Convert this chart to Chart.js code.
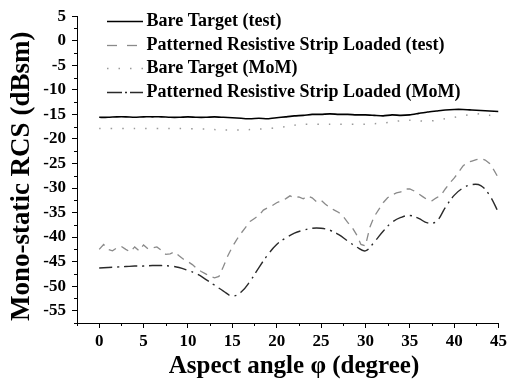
<!DOCTYPE html>
<html>
<head>
<meta charset="utf-8">
<script src="https://cdn.jsdelivr.net/npm/chart.js@4.4.1/dist/chart.umd.min.js"></script>
<style>
  html, body { margin: 0; padding: 0; background: #fff; }
  #wrap { width: 510px; height: 386px; }
</style>
</head>
<body>
<div id="wrap"><canvas id="c" width="510" height="386"></canvas></div>
<script>
const seriesLabels = [
  "Bare Target (test)",
  "Patterned Resistive Strip Loaded (test)",
  "Bare Target (MoM)",
  "Patterned Resistive Strip Loaded (MoM)"
];

// angles (degree)
const anglesStep1 = [0,1,2,3,4,5,6,7,8,9,10,11,12,13,14,15,16,17,18,19,20,21,22,23,24,25,26,27,28,29,30,31,32,33,34,35,36,37,38,39,40,41,42,43,44,45];
const anglesStepHalf = [0,0.5,1,1.5,2,2.5,3,3.5,4,4.5,5,5.5,6,6.5,7,7.5,8,8.5,9,9.5,10,10.5,11,11.5,12,12.5,13,13.5,14,14.5,15,15.5,16,16.5,17,17.5,18,18.5,19,19.5,20,20.5,21,21.5,22,22.5,23,23.5,24,24.5,25,25.5,26,26.5,27,27.5,28,28.5,29,29.5,30,30.5,31,31.5,32,32.5,33,33.5,34,34.5,35,35.5,36,36.5,37,37.5,38,38.5,39,39.5,40,40.5,41,41.5,42,42.5,43,43.5,44,44.5,45];

// Bare Target (test), 1-degree steps
const bareTest = [-15.6,-15.6,-15.5,-15.5,-15.6,-15.5,-15.5,-15.5,-15.6,-15.6,-15.5,-15.6,-15.6,-15.5,-15.6,-15.7,-15.8,-15.9,-15.8,-15.9,-15.7,-15.5,-15.3,-15.2,-15.0,-15.0,-14.9,-15.0,-15.0,-15.1,-15.1,-15.2,-15.3,-15.1,-15.2,-15.1,-14.8,-14.5,-14.3,-14.1,-14.0,-14.0,-14.1,-14.2,-14.3,-14.4];

// Patterned Resistive Strip Loaded (test), 0.5-degree steps
const stripTest = [-42.5,-41.5,-42.5,-42.8,-42.2,-41.9,-42.5,-43.0,-42.0,-42.8,-41.6,-42.4,-42.2,-42.0,-42.7,-43.5,-43.4,-43.0,-43.8,-44.5,-45.0,-45.6,-46.4,-47.0,-47.5,-48.0,-48.3,-48.0,-46.0,-43.8,-42.0,-40.5,-39.2,-38.0,-36.8,-36.2,-35.6,-34.5,-34.0,-33.6,-33.0,-32.6,-32.2,-31.6,-32.0,-31.8,-32.2,-31.6,-32.0,-32.8,-32.5,-33.3,-34.0,-34.5,-35.0,-35.8,-37.0,-38.0,-39.5,-41.5,-41.8,-38.0,-35.8,-34.4,-33.0,-32.0,-31.4,-31.0,-30.8,-30.2,-30.2,-30.6,-31.2,-31.8,-32.4,-32.6,-32.0,-31.5,-30.2,-29.0,-28.0,-26.8,-25.5,-24.8,-24.5,-24.2,-24.0,-24.3,-25.0,-26.4,-28.0];

// Bare Target (MoM), 1-degree steps
const bareMoM = [-17.9,-17.9,-17.9,-17.9,-17.9,-17.9,-17.9,-17.9,-17.9,-17.9,-17.9,-18.0,-18.0,-18.1,-18.2,-18.2,-18.2,-18.1,-18.0,-17.9,-17.7,-17.5,-17.2,-17.0,-17.0,-17.0,-17.0,-17.0,-17.0,-17.0,-17.0,-16.9,-16.8,-16.5,-16.3,-16.2,-16.3,-16.4,-16.2,-15.9,-15.6,-15.3,-15.0,-14.9,-15.2,-15.5];

// Patterned Resistive Strip Loaded (MoM), 1-degree steps
const stripMoM = [-46.3,-46.2,-46.1,-46.0,-45.9,-45.9,-45.8,-45.8,-45.9,-46.2,-46.8,-47.5,-48.6,-49.8,-51.0,-52.0,-51.2,-49.0,-46.2,-43.6,-41.5,-40.2,-39.2,-38.6,-38.2,-38.2,-38.6,-39.5,-40.8,-42.0,-42.8,-41.0,-38.8,-37.0,-36.0,-35.6,-36.2,-37.1,-36.8,-34.0,-31.5,-30.0,-29.3,-29.5,-31.5,-35.0];

const xMin = -2.5, xMax = 45, xStep = 2.5, xLabelStep = 5;
const yMin = -57.5, yMax = 5, yStep = 2.5, yLabelStep = 5;

function pairs(xs, ys) { return xs.map((x, i) => ({ x: x, y: ys[i] })); }

const FONT = '"Liberation Serif", "Times New Roman", serif';
const isMajor = (v, step) => Math.abs(v / step - Math.round(v / step)) < 1e-6;

const minorTicks = {
  id: 'minorTicks',
  afterDraw(chart) {
    const ctx = chart.ctx;
    ctx.save();
    ctx.strokeStyle = '#000';
    ctx.lineWidth = 1;
    const xs = chart.scales.x, ys = chart.scales.y;
    xs.ticks.forEach(t => {
      if (!isMajor(t.value, xLabelStep)) {
        const px = Math.round(xs.getPixelForValue(t.value)) + 0.5;
        ctx.beginPath(); ctx.moveTo(px, xs.top); ctx.lineTo(px, xs.top + 3); ctx.stroke();
      }
    });
    ys.ticks.forEach(t => {
      if (!isMajor(t.value, yLabelStep)) {
        const py = Math.round(ys.getPixelForValue(t.value)) + 0.5;
        ctx.beginPath(); ctx.moveTo(ys.right, py); ctx.lineTo(ys.right - 3, py); ctx.stroke();
      }
    });
    ctx.restore();
  }
};

const insideLegend = {
  id: 'insideLegend',
  afterDraw(chart) {
    const ctx = chart.ctx;
    const area = chart.chartArea;
    const x0 = area.left + 30, x1 = x0 + 36, tx = x1 + 3.5;
    const y0 = area.top + 5, dy = 23.5;
    ctx.save();
    ctx.font = 'bold 18px ' + FONT;
    ctx.textBaseline = 'middle';
    ctx.textAlign = 'left';
    chart.data.datasets.forEach((ds, i) => {
      const y = Math.round(y0 + i * dy) + 0.5;
      ctx.strokeStyle = ds.borderColor;
      ctx.lineWidth = ds.borderWidth;
      ctx.setLineDash(ds.legendDash || ds.borderDash || []);
      ctx.beginPath(); ctx.moveTo(x0, y); ctx.lineTo(x1, y); ctx.stroke();
      ctx.setLineDash([]);
      ctx.fillStyle = '#000';
      ctx.fillText(ds.label, tx, y);
    });
    ctx.restore();
  }
};

new Chart(document.getElementById('c'), {
  type: 'line',
  data: {
    datasets: [
      { label: seriesLabels[0], data: pairs(anglesStep1, bareTest), borderColor: '#000000', borderWidth: 1.6, tension: 0.2, pointRadius: 0 },
      { label: seriesLabels[1], data: pairs(anglesStepHalf, stripTest), borderColor: '#8a8a8a', borderWidth: 1.3, borderDash: [8, 6], legendDash: [10, 10], tension: 0, pointRadius: 0 },
      { label: seriesLabels[2], data: pairs(anglesStep1, bareMoM), borderColor: '#9a9a9a', borderWidth: 1.5, borderDash: [1.5, 10], tension: 0.3, pointRadius: 0 },
      { label: seriesLabels[3], data: pairs(anglesStep1, stripMoM), borderColor: '#2a2a2a', borderWidth: 1.4, borderDash: [13, 5, 2, 5], legendDash: [15, 3, 2, 3], tension: 0.4, pointRadius: 0 }
    ]
  },
  options: {
    responsive: false,
    animation: false,
    layout: { padding: { top: 10, right: 8, left: 0, bottom: 0 } },
    plugins: { legend: { display: false }, tooltip: { enabled: false } },
    scales: {
      x: {
        type: 'linear', min: xMin, max: xMax,
        afterFit: s => { s.height = 63; },
        border: { display: true, color: '#000', width: 1 },
        grid: { display: true, drawOnChartArea: false, drawTicks: true, tickLength: 5,
                tickColor: c => isMajor(c.tick.value, xLabelStep) ? '#000' : 'rgba(0,0,0,0)' },
        ticks: { stepSize: xStep, autoSkip: false, maxRotation: 0, padding: 3, color: '#000',
                 font: { family: FONT, size: 17, weight: 'bold' },
                 callback: v => (isMajor(v, xLabelStep) && v >= 0) ? String(v) : '' },
        title: { display: true, text: '\u00A0\u00A0Aspect angle φ (degree)', color: '#000', padding: { top: 0 },
                 font: { family: FONT, size: 25, weight: 'bold' } }
      },
      y: {
        type: 'linear', min: yMin, max: yMax,
        afterFit: s => { s.width = 77; },
        border: { display: true, color: '#000', width: 1 },
        grid: { display: true, drawOnChartArea: false, drawTicks: true, tickLength: 5,
                tickColor: c => isMajor(c.tick.value, yLabelStep) ? '#000' : 'rgba(0,0,0,0)' },
        ticks: { stepSize: yStep, autoSkip: false, padding: 6, color: '#000',
                 font: { family: FONT, size: 17, weight: 'bold' },
                 callback: v => isMajor(v, yLabelStep) ? String(v) : '' },
        title: { display: true, text: 'Mono-static RCS (dBsm)\u00A0\u00A0', color: '#000', padding: { top: 6, bottom: 0 },
                 font: { family: FONT, size: 27, weight: 'bold' } }
      }
    }
  },
  plugins: [minorTicks, insideLegend]
});
</script>
</body>
</html>
